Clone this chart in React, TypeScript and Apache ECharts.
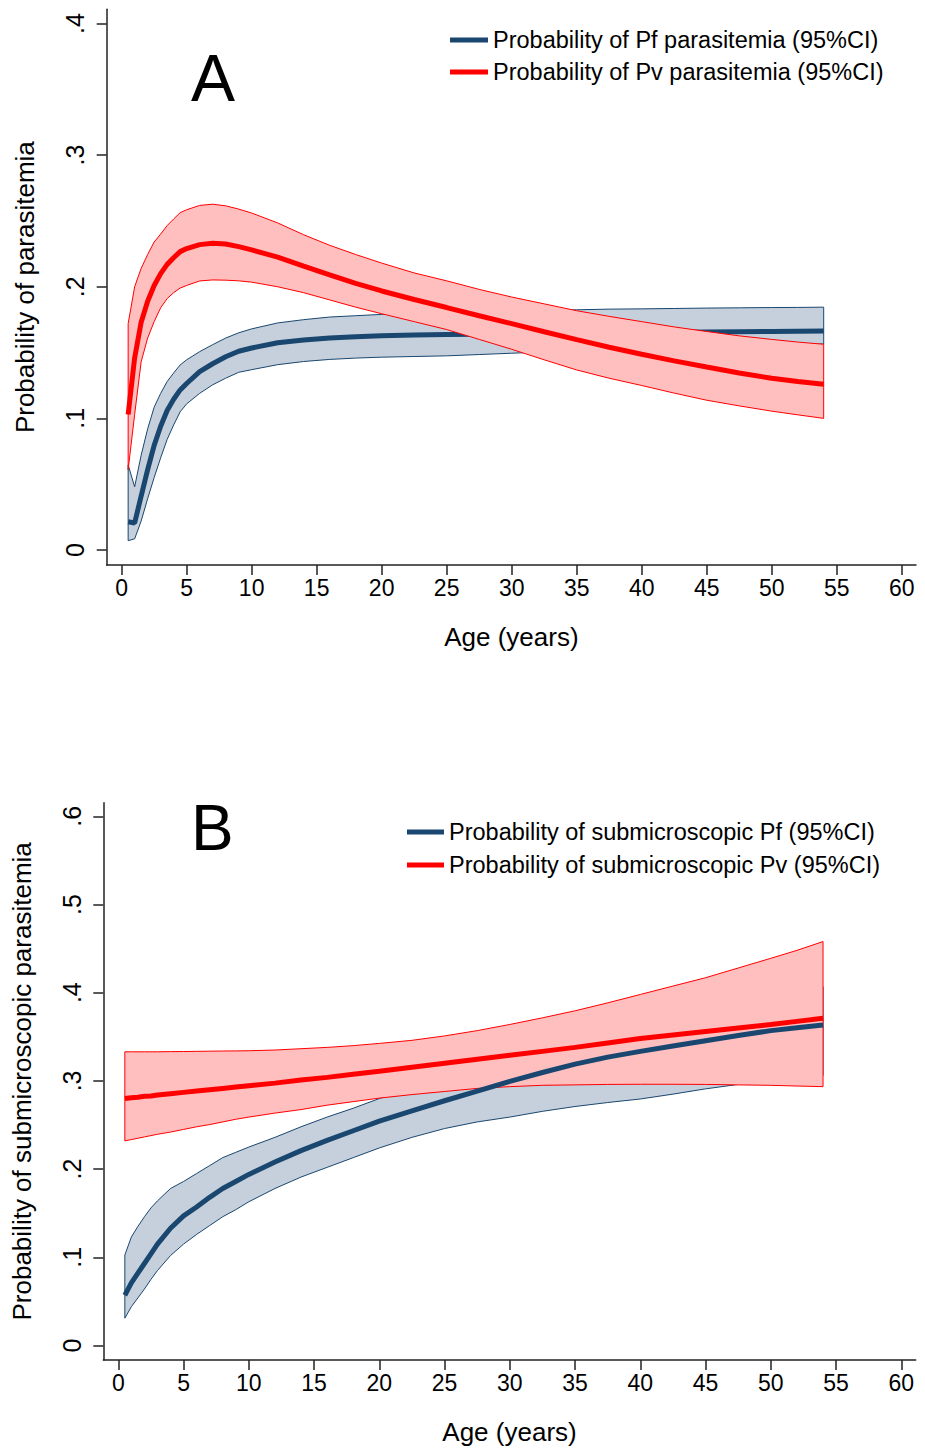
import React, { useEffect, useRef } from "react";
import * as echarts from "echarts";

// ---------- Panel A data ----------
const AGES_A = [0.5, 1, 1.5, 2, 2.5, 3, 3.5, 4, 4.5, 5, 6, 7, 8, 9, 10, 12, 14, 16, 18, 20, 22.5, 25, 27.5, 30, 32.5, 35, 37.5, 40, 42.5, 45, 47.5, 50, 52, 54];
const PV_A = [0.103, 0.146, 0.173, 0.189, 0.201, 0.210, 0.217, 0.222, 0.2267, 0.229, 0.232, 0.233, 0.2325, 0.2305, 0.228, 0.2225, 0.2157, 0.209, 0.2025, 0.1968, 0.1903, 0.1842, 0.178, 0.172, 0.1658, 0.1598, 0.154, 0.1487, 0.1437, 0.139, 0.1345, 0.1305, 0.128, 0.126];
const PV_A_HI = [0.172, 0.200, 0.214, 0.2245, 0.234, 0.240, 0.2465, 0.2515, 0.2563, 0.2585, 0.2618, 0.2627, 0.2615, 0.259, 0.256, 0.2485, 0.2395, 0.2315, 0.2245, 0.218, 0.2105, 0.2045, 0.198, 0.1922, 0.187, 0.1818, 0.1775, 0.1735, 0.1695, 0.166, 0.1627, 0.160, 0.158, 0.1563];
const PV_A_LO = [0.061, 0.103, 0.143, 0.161, 0.1735, 0.184, 0.191, 0.1955, 0.199, 0.201, 0.2044, 0.2052, 0.205, 0.2045, 0.2035, 0.2, 0.1955, 0.190, 0.1845, 0.1795, 0.1735, 0.1675, 0.160, 0.1525, 0.1445, 0.1368, 0.1305, 0.125, 0.1192, 0.1138, 0.1095, 0.1055, 0.1027, 0.100];
const PF_A = [0.0215, 0.0205, 0.041, 0.061, 0.0795, 0.094, 0.106, 0.1145, 0.1216, 0.1265, 0.1355, 0.1415, 0.1468, 0.151, 0.1535, 0.1575, 0.1595, 0.161, 0.162, 0.1628, 0.1633, 0.1637, 0.164, 0.1643, 0.1646, 0.1649, 0.1651, 0.1653, 0.1655, 0.1657, 0.1659, 0.166, 0.1662, 0.1664];
const PF_A_HI = [0.0646, 0.048, 0.072, 0.092, 0.1085, 0.119, 0.128, 0.1345, 0.1406, 0.1445, 0.1507, 0.156, 0.161, 0.165, 0.168, 0.1725, 0.175, 0.177, 0.178, 0.179, 0.1798, 0.1805, 0.181, 0.1815, 0.182, 0.1825, 0.183, 0.1832, 0.1835, 0.1838, 0.184, 0.1842, 0.1843, 0.1845];
const PF_A_LO = [0.0071, 0.0085, 0.022, 0.039, 0.055, 0.070, 0.084, 0.095, 0.105, 0.111, 0.119, 0.1255, 0.1305, 0.135, 0.137, 0.1408, 0.1432, 0.1448, 0.1458, 0.1465, 0.147, 0.1475, 0.1485, 0.1495, 0.1505, 0.152, 0.153, 0.154, 0.1548, 0.1553, 0.156, 0.1562, 0.1564, 0.1565];

// ---------- Panel B data ----------
const AGES_B = [0.5, 1, 1.5, 2, 2.5, 3, 4, 5, 6, 7, 8, 9, 10, 12, 14, 16, 18, 20, 22.5, 25, 27.5, 30, 32.5, 35, 37.5, 40, 42.5, 45, 47.5, 50, 52, 54];
const PV_B = [0.280, 0.281, 0.2815, 0.2825, 0.283, 0.284, 0.2855, 0.287, 0.2885, 0.290, 0.2915, 0.293, 0.2945, 0.2975, 0.301, 0.304, 0.3075, 0.311, 0.3155, 0.320, 0.3245, 0.329, 0.3335, 0.338, 0.343, 0.348, 0.352, 0.356, 0.360, 0.364, 0.3675, 0.371];
const PV_B_HI = [0.333, 0.333, 0.333, 0.333, 0.333, 0.333, 0.3332, 0.3333, 0.3335, 0.3337, 0.3339, 0.334, 0.3342, 0.335, 0.3365, 0.338, 0.340, 0.3425, 0.346, 0.351, 0.357, 0.364, 0.3715, 0.3795, 0.3885, 0.398, 0.4075, 0.417, 0.428, 0.439, 0.448, 0.458];
const PV_B_LO = [0.232, 0.2335, 0.235, 0.2365, 0.238, 0.2395, 0.242, 0.245, 0.248, 0.2505, 0.2535, 0.2565, 0.259, 0.2635, 0.2675, 0.2725, 0.2765, 0.2805, 0.2845, 0.288, 0.2915, 0.2935, 0.295, 0.2955, 0.296, 0.2962, 0.2962, 0.296, 0.2955, 0.295, 0.2942, 0.2935];
const PF_B = [0.057, 0.071, 0.082, 0.093, 0.104, 0.115, 0.133, 0.147, 0.157, 0.168, 0.178, 0.186, 0.194, 0.208, 0.221, 0.2325, 0.2435, 0.2545, 0.266, 0.2775, 0.2885, 0.2995, 0.3095, 0.319, 0.327, 0.3335, 0.3395, 0.3455, 0.3515, 0.357, 0.3603, 0.3634];
const PF_B_HI = [0.1026, 0.123, 0.135, 0.146, 0.156, 0.164, 0.178, 0.186, 0.195, 0.204, 0.213, 0.219, 0.225, 0.236, 0.248, 0.259, 0.269, 0.280, 0.292, 0.303, 0.313, 0.323, 0.333, 0.342, 0.351, 0.36, 0.369, 0.378, 0.386, 0.394, 0.4, 0.407];
const PF_B_LO = [0.031, 0.044, 0.054, 0.064, 0.075, 0.085, 0.102, 0.115, 0.126, 0.136, 0.146, 0.154, 0.163, 0.178, 0.191, 0.202, 0.213, 0.224, 0.236, 0.246, 0.2535, 0.259, 0.2655, 0.271, 0.2755, 0.2795, 0.285, 0.291, 0.296, 0.300, 0.303, 0.306];

// ---------- Axes ticks / labels ----------
const X_TICKS = [0, 5, 10, 15, 20, 25, 30, 35, 40, 45, 50, 55, 60];
const Y_TICKS_A = [0, 0.1, 0.2, 0.3, 0.4];
const Y_TICKS_B = [0, 0.1, 0.2, 0.3, 0.4, 0.5, 0.6];
const X_NAME = "Age (years)";
const Y_NAME_A = "Probability of parasitemia";
const Y_NAME_B = "Probability of submicroscopic parasitemia";
const NAMES_A = ["Probability of Pf parasitemia (95%CI)", "Probability of Pv parasitemia (95%CI)"];
const NAMES_B = ["Probability of submicroscopic Pf (95%CI)", "Probability of submicroscopic Pv (95%CI)"];

const NAVY = "#1a476f";
const NAVY_FILL = "#c5d0dc";
const RED = "#ff0000";
const RED_FILL = "#ffbfbf";
const AXIS_COLOR = "#222";
const FONT = "'Liberation Sans', Arial, sans-serif";

function fmtY(v: number) {
  if (Math.abs(v) < 1e-9) return "0";
  return (Math.round(v * 10) / 10).toString().replace(/^0/, "");
}

function bandSeries(idx: number, ages: number[], lo: number[], hi: number[], fill: string, stroke: string, z: number) {
  return {
    type: "custom",
    xAxisIndex: idx,
    yAxisIndex: idx,
    z,
    silent: true,
    data: ages.map((a, i) => [a, lo[i], hi[i]]),
    encode: { x: 0, y: [1, 2] },
    renderItem: (params: any, api: any) => {
      if (params.dataIndex !== 0) return null;
      const pts: number[][] = [];
      for (let i = 0; i < ages.length; i++) pts.push(api.coord([ages[i], hi[i]]));
      for (let i = ages.length - 1; i >= 0; i--) pts.push(api.coord([ages[i], lo[i]]));
      return {
        type: "polygon",
        shape: { points: pts },
        style: { fill, stroke, lineWidth: 1 },
      };
    },
  };
}

function lineSeries(idx: number, name: string, ages: number[], vals: number[], color: string, z: number) {
  return {
    type: "line",
    name,
    xAxisIndex: idx,
    yAxisIndex: idx,
    z,
    showSymbol: false,
    symbol: "none",
    silent: true,
    data: ages.map((a, i) => [a, vals[i]]),
    lineStyle: { color, width: 5 },
    itemStyle: { color },
  };
}

function xAxisCfg(idx: number) {
  return {
    type: "value",
    gridIndex: idx,
    min: -1.15,
    max: 61.1,
    name: X_NAME,
    nameLocation: "middle",
    nameGap: 59,
    nameTextStyle: { fontFamily: FONT, fontSize: 26, color: "#000" },
    splitLine: { show: false },
    axisLine: { show: true, onZero: false, lineStyle: { color: AXIS_COLOR, width: 1.5 } },
    axisTick: { show: true, length: 10, customValues: X_TICKS, lineStyle: { color: AXIS_COLOR, width: 1.5 } },
    axisLabel: { customValues: X_TICKS, margin: 11, fontFamily: FONT, fontSize: 23, color: "#000" },
  };
}

function yAxisCfg(idx: number, min: number, max: number, ticks: number[], name: string, gap: number) {
  return {
    type: "value",
    gridIndex: idx,
    min,
    max,
    name,
    nameLocation: "middle",
    nameGap: gap,
    nameRotate: 90,
    nameTextStyle: { fontFamily: FONT, fontSize: 26, color: "#000" },
    splitLine: { show: false },
    axisLine: { show: true, onZero: false, lineStyle: { color: AXIS_COLOR, width: 1.5 } },
    axisTick: { show: true, length: 10, customValues: ticks, lineStyle: { color: AXIS_COLOR, width: 1.5 } },
    axisLabel: { customValues: ticks, rotate: 90, margin: 19, fontFamily: FONT, fontSize: 25, color: "#000", formatter: (v: number) => fmtY(v) },
  };
}

export default function App() {
  const ref = useRef<HTMLDivElement>(null);
  useEffect(() => {
    if (!ref.current) return;
    const chart = echarts.init(ref.current, undefined, { renderer: "svg" });
    const option: any = {
      animation: false,
      backgroundColor: "#fff",
      grid: [
        { left: 106.7, top: 9.3, width: 809.3, height: 555.7 },
        { left: 103.3, top: 802.7, width: 812.4, height: 557.3 },
      ],
      xAxis: [xAxisCfg(0), xAxisCfg(1)],
      yAxis: [
        yAxisCfg(0, -0.0114, 0.4108, Y_TICKS_A, Y_NAME_A, 69),
        yAxisCfg(1, -0.0164, 0.6154, Y_TICKS_B, Y_NAME_B, 68),
      ],
      legend: [
        {
          left: 450, top: 27, padding: 0, orient: "vertical", itemGap: 6, itemWidth: 38, itemHeight: 5, icon: "rect",
          data: NAMES_A, selectedMode: false,
          textStyle: { fontFamily: FONT, fontSize: 23.5, color: "#000", lineHeight: 26 },
        },
        {
          left: 407, top: 819, padding: 0, orient: "vertical", itemGap: 7, itemWidth: 37, itemHeight: 5, icon: "rect",
          data: NAMES_B, selectedMode: false,
          textStyle: { fontFamily: FONT, fontSize: 23.5, color: "#000", lineHeight: 26 },
        },
      ],
      graphic: [
        { type: "text", left: 191, top: 45, style: { text: "A", fontFamily: FONT, fontSize: 66, fill: "#000" } },
        { type: "text", left: 191, top: 796, style: { text: "B", fontFamily: FONT, fontSize: 64, fill: "#000" } },
      ],
      series: [
        bandSeries(0, AGES_A, PF_A_LO, PF_A_HI, NAVY_FILL, NAVY, 2),
        lineSeries(0, NAMES_A[0], AGES_A, PF_A, NAVY, 3),
        bandSeries(0, AGES_A, PV_A_LO, PV_A_HI, RED_FILL, RED, 4),
        lineSeries(0, NAMES_A[1], AGES_A, PV_A, RED, 5),
        bandSeries(1, AGES_B, PF_B_LO, PF_B_HI, NAVY_FILL, NAVY, 2),
        bandSeries(1, AGES_B, PV_B_LO, PV_B_HI, RED_FILL, RED, 3),
        lineSeries(1, NAMES_B[0], AGES_B, PF_B, NAVY, 4),
        lineSeries(1, NAMES_B[1], AGES_B, PV_B, RED, 5),
      ],
    };
    chart.setOption(option);
    return () => chart.dispose();
  }, []);
  return (
    <div
      ref={ref}
      style={{ position: "absolute", left: 0, top: 0, width: 925, height: 1450 }}
    />
  );
}
